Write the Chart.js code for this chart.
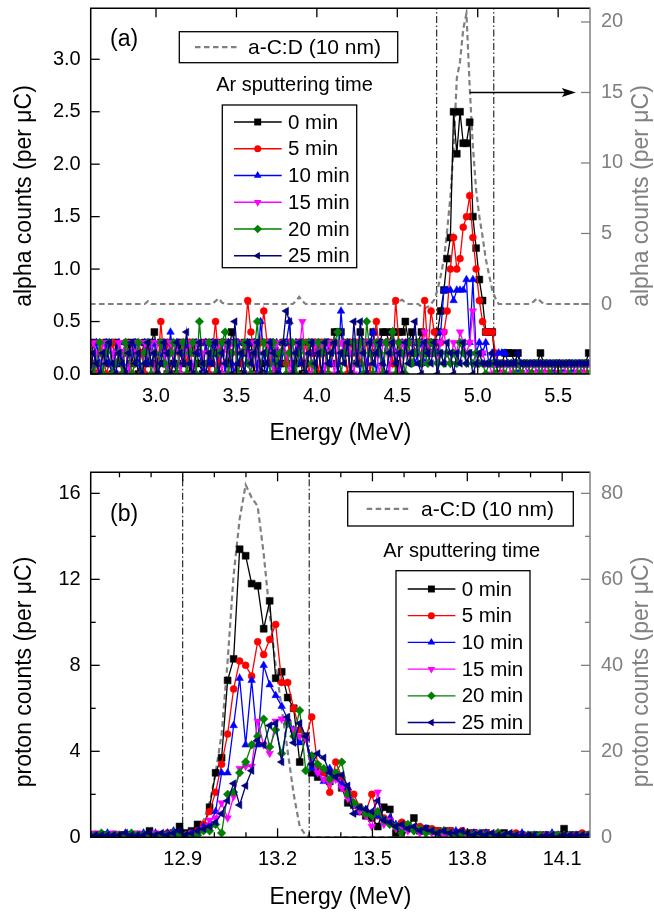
<!DOCTYPE html>
<html>
<head>
<meta charset="utf-8">
<script src="https://cdn.jsdelivr.net/npm/chart.js@4.4.1/dist/chart.umd.min.js"></script>
<style>
  html, body { margin: 0; padding: 0; background: #fff; }
  #wrap { position: relative; width: 654px; height: 914px; }
  .panel { position: absolute; left: 0; width: 654px; height: 457px; }
</style>
</head>
<body>
<div id="wrap">
  <div class="panel" style="top:0"><canvas id="chart-a" width="654" height="457"></canvas></div>
  <div class="panel" style="top:457px"><canvas id="chart-b" width="654" height="457"></canvas></div>
</div>
<script>
// ── Energy channels (MeV) ─────────────────────────────────
const ENERGY_A = [
  2.59,2.61,2.63,2.65,2.67,2.69,2.71,2.73,2.75,2.77,
  2.79,2.81,2.83,2.85,2.87,2.89,2.91,2.93,2.95,2.97,
  2.99,3.01,3.03,3.05,3.07,3.09,3.11,3.13,3.15,3.17,
  3.19,3.21,3.23,3.25,3.27,3.29,3.31,3.33,3.35,3.37,
  3.39,3.41,3.43,3.45,3.47,3.49,3.51,3.53,3.55,3.57,
  3.59,3.61,3.63,3.65,3.67,3.69,3.71,3.73,3.75,3.77,
  3.79,3.81,3.83,3.85,3.87,3.89,3.91,3.93,3.95,3.97,
  3.99,4.01,4.03,4.05,4.07,4.09,4.11,4.13,4.15,4.17,
  4.19,4.21,4.23,4.25,4.27,4.29,4.31,4.33,4.35,4.37,
  4.39,4.41,4.43,4.45,4.47,4.49,4.51,4.53,4.55,4.57,
  4.59,4.61,4.63,4.65,4.67,4.69,4.71,4.73,4.75,4.77,
  4.79,4.81,4.83,4.85,4.87,4.89,4.91,4.93,4.95,4.97,
  4.99,5.01,5.03,5.05,5.07,5.09,5.11,5.13,5.15,5.17,
  5.19,5.21,5.23,5.25,5.27,5.29,5.31,5.33,5.35,5.37,
  5.39,5.41,5.43,5.45,5.47,5.49,5.51,5.53,5.55,5.57,
  5.59,5.61,5.63,5.65,5.67,5.69
];
const ENERGY_B = [
  12.605,12.624,12.643,12.662,12.681,12.700,12.719,12.738,12.757,12.776,
  12.795,12.814,12.833,12.852,12.871,12.890,12.909,12.928,12.947,12.966,
  12.985,13.004,13.023,13.042,13.061,13.080,13.099,13.118,13.137,13.156,
  13.175,13.194,13.213,13.232,13.251,13.270,13.289,13.308,13.327,13.346,
  13.365,13.384,13.403,13.422,13.441,13.460,13.479,13.498,13.517,13.536,
  13.555,13.574,13.593,13.612,13.631,13.650,13.669,13.688,13.707,13.726,
  13.745,13.764,13.783,13.802,13.821,13.840,13.859,13.878,13.897,13.916,
  13.935,13.954,13.973,13.992,14.011,14.030,14.049,14.068,14.087,14.106,
  14.125,14.144,14.163,14.182
];

// ── Panel (a): alpha counts (per µC) ──────────────────────
const ALPHA_0 = [
  .1,.3,.1,0,.2,.3,.1,0,.3,.1,  .2,0,.3,.1,.3,0,.2,.3,.1,.3,
  .4,.1,.3,.2,0,.3,.1,0,.3,.1,  .3,0,.3,.2,.1,0,.3,.1,.3,.2,
  0,.3,.3,.1,.4,.3,0,0,.3,.2,  .3,0,.3,.1,0,.3,.3,0,.2,.1,
  .3,.1,.3,0,.1,.3,0,.1,.3,.3,  .2,.3,0,.3,.3,.1,.4,.4,.4,.2,
  .3,0,.3,.1,.4,.3,0,.3,.4,.2,  .3,.4,.4,.3,.4,.1,.4,.4,.5,.3,
  .4,.2,.3,.4,.2,.3,.2,.3,.4,.6,  .8,1.1,1.3,2.5,2.1,2.5,2.2,2.2,2.4,1.5,
  1.2,.9,.7,.4,.4,.4,.1,0,.1,.2,  .2,.2,.1,.2,0,.1,.1,0,.1,.1,
  .2,.1,.1,0,.1,.1,.1,0,.1,.1,  .1,0,.1,.1,.1,.2
];
const ALPHA_5 = [
  .2,.1,0,.3,.2,0,.1,.3,.1,.2,  0,.3,.2,0,.1,.3,.2,0,.3,.1,
  .2,0,.5,.1,.3,0,.2,.3,0,.3,  .1,.3,0,.2,.3,.1,.3,0,.2,.5,
  .1,.3,0,.3,.2,0,.3,.1,.3,.7,  .4,.2,0,.3,.6,.3,.1,.3,0,.2,
  .3,.1,.3,0,.2,.3,.1,.3,0,.2,  .3,0,.3,.2,0,.3,.3,.1,.2,.3,
  0,.3,.2,.3,.1,.3,.3,0,.3,.5,  .2,0,.3,.3,.1,.7,.3,0,.3,.2,
  .1,.2,.3,.1,.7,.2,.6,.4,.2,.3,  .4,.6,1.0,1.3,1.0,1.1,1.4,1.5,1.7,1.3,
  1.0,.7,.5,.4,.4,.4,.2,.1,0,.1,  .1,0,.1,.1,0,.1,.1,0,.1,0,
  .1,.1,0,.1,.1,0,.1,.1,0,.1,  .1,0,.1,.1,0,.1
];
const ALPHA_10 = [
  .2,0,.3,.1,0,.3,.1,0,.2,.3,  .1,.3,0,.2,.3,.1,0,.3,.1,.2,
  .3,0,.2,.3,0,.4,.1,.3,0,.2,  .3,.1,0,.3,.2,0,.3,.1,.3,0,
  .2,.3,0,.3,.1,0,.3,.2,0,.3,  .1,.3,0,.5,.2,0,.3,.1,.3,0,
  .2,.3,.5,0,.3,.1,.3,0,.2,.3,  0,.3,.2,0,.3,.1,.3,0,.6,.2,
  .3,0,.3,.2,0,.3,.1,.3,.4,0,  .3,.1,.3,0,.4,.2,0,.3,.2,.3,
  .3,.1,.2,.3,.1,.2,.3,.2,.2,.4,  .8,.8,.8,.7,.8,.8,.8,.9,.3,.9,
  .2,.3,.2,.3,.1,.2,.1,.2,.2,.2,  .1,.1,.1,0,.1,.1,0,.1,.1,0,
  .1,0,.1,.1,0,.1,.1,0,.1,.1,  0,.1,.1,0,.1,.1
];
const ALPHA_15 = [
  .2,.3,.2,0,.3,.2,.3,.2,0,.3,  .2,.3,0,.3,.2,.3,0,.3,.2,.3,
  0,.3,.3,.2,0,.3,.2,.3,0,.3,  .2,.3,0,.3,.3,.2,0,.3,.2,0,
  .3,0,.3,.2,.3,.3,0,.2,.3,.2,  0,.3,.2,0,.3,.3,.2,0,.3,.2,
  .3,.2,0,.3,.3,.2,.5,0,.3,0,  .3,.2,.3,0,.3,.2,0,.3,.3,.2,
  .3,.2,0,.3,.2,.3,0,.3,.3,.2,  0,.3,.3,0,.3,.2,0,.3,.2,.3,
  .3,.2,.3,.1,.4,.3,.2,.3,.1,.3,  .4,.2,.1,.3,.2,.4,.3,.2,.3,.6,
  .1,.2,.2,.1,.1,0,.1,.1,0,.1,  .1,0,.1,.1,0,.1,0,.1,.1,0,
  .1,0,.1,0,.1,.1,0,.1,0,.1,  .1,0,.1,0,.1,.1
];
const ALPHA_20 = [
  .2,0,.1,.3,0,.2,.3,0,.1,.2,  0,.3,.2,0,.1,.3,0,.2,.3,0,
  .2,0,.3,.1,0,.2,.3,0,.2,.3,  0,.2,.3,0,.5,.1,0,.3,.2,0,
  .2,.3,.4,0,.2,.3,0,.2,.3,.1,  0,.2,.5,0,.3,.2,0,.3,.1,.2,
  .3,0,.2,.3,0,.2,.3,0,.3,.1,  0,.3,.2,.3,0,.2,.3,.4,0,.2,
  .3,0,.3,.1,.3,0,.5,.2,0,.3,  .2,0,.3,.2,.4,0,.3,.2,0,.3,
  .1,.2,.3,.1,.2,.1,.3,.2,.1,.2,  .1,.2,.1,.2,.1,.3,.2,.1,.2,.1,
  .2,.1,.1,0,.1,.1,0,.1,.1,0,  .1,.1,0,.1,0,.1,.1,0,.1,.1,
  0,.1,.1,0,.1,.1,0,.1,.1,0,  .1,.1,0,.1,.1,0
];
const ALPHA_25 = [
  0,.2,.1,0,.2,.1,.3,.1,0,.2,  .1,0,.2,.3,.1,.2,0,.1,.3,.1,
  .2,0,.1,.3,.2,0,.1,.3,.2,.1,  .4,.1,0,.2,.3,.1,0,.2,.1,.3,
  0,.2,.1,.3,0,.5,.1,.2,0,.3,  .1,.2,.3,0,.2,.1,.3,.2,0,.1,
  .3,.6,.5,0,.2,.3,.1,0,.2,.3,  .1,.2,0,.3,.1,.2,.3,0,.2,.1,
  .3,0,.5,.1,.5,.2,0,.3,.1,.2,  .3,.1,0,.2,.3,.1,.2,0,.3,.1,
  .2,.5,.1,0,.3,.2,.1,.3,0,.2,  .1,.3,.2,0,.2,.1,.3,.1,.2,0,
  .1,.2,.1,.1,.1,.2,.1,.1,.1,.1,  .1,.1,.1,.2,.1,.1,.1,.1,.1,.1,
  .1,.1,.1,.1,.1,.1,.1,.1,.1,.1,  .1,.1,.1,.1,.1,.1
];
// a-C:D (10 nm) reference film, right axis
const ALPHA_FILM = [
  0,0,0,0,0,0,0,0,0,0,  0,0,0,0,0,0,0,0,.2,0,
  0,0,0,0,0,0,0,0,0,0,  0,0,0,0,0,0,0,0,0,.2,
  .4,.1,0,0,0,0,0,0,0,0,  0,0,0,0,0,0,0,0,0,0,
  0,0,0,0,.2,.5,.2,0,0,0,  0,0,0,0,0,0,0,0,0,0,
  0,0,0,0,0,0,0,0,0,0,  0,0,0,0,0,0,.2,.3,.1,0,
  0,0,0,-.2,-.3,-.2,0,.3,1.0,2.0,  3.2,5.2,7.6,11,16,17.2,19.5,20.6,15.4,11.2,
  8.1,6.2,4.8,3.2,2.1,1.0,.4,0,0,0,  0,0,0,0,0,0,0,0,.2,.4,
  .2,0,0,0,0,0,0,0,0,0,  0,0,0,0,0,0
];

// ── Panel (b): proton counts (per µC) ─────────────────────
const PROTON_0 = [
  .1,.1,.1,.1,0,.1,.1,.1,.1,.1,  .3,.1,.1,.1,.2,.5,.2,.3,.6,.5,
  1.4,3.0,3.7,7.3,8.3,13.4,13.1,11.8,11.7,9.7,  11.0,7.4,7.7,6.5,6.0,3.5,4.7,3.0,2.8,3.1,
  2.6,2.9,2.3,1.6,1.5,1.2,1.0,.9,.5,1.4,  1.3,.2,.6,.5,.9,.3,.4,.3,.3,.2,
  .3,.2,.2,.1,.2,.1,.2,.1,.1,.2,  .1,.1,.1,0,.1,.1,.1,0,.1,.4,
  .1,.1,.1,.1
];
const PROTON_5 = [
  .1,.1,0,.1,.1,.1,.1,.1,.1,.1,  .1,.1,.1,.2,.1,.2,.1,.2,.3,.6,
  1.2,2.1,3.4,4.8,6.9,8.2,8.0,7.5,9.1,8.5,  9.2,9.9,7.2,7.2,6.0,5.0,4.6,5.6,3.3,3.0,
  2.1,3.5,2.8,2.2,2.0,1.4,1.2,2.0,1.0,.9,  .8,.5,.7,.5,.4,.5,.3,.4,.3,.2,
  .3,.2,.3,.2,.2,.1,.2,.1,.2,.1,  .1,.2,.1,.1,.1,0,.1,.1,.1,0,
  .1,.1,.2,.1
];
const PROTON_10 = [
  .1,.1,.1,.2,.1,.1,.2,.1,.1,.2,  .1,.2,.1,.2,.3,.2,.1,.2,.3,.5,
  .6,1.2,3.0,3.0,5.2,7.4,4.3,7.3,4.3,8.0,  7.1,6.6,6.1,5.5,5.0,4.4,4.6,3.2,3.0,2.6,
  3.2,2.8,2.5,2.3,1.6,1.2,1.3,1.1,1.0,.7,  .9,.6,.3,.5,.4,.3,.4,.3,.2,.3,
  .2,.3,.2,.1,.2,.1,.2,.1,.2,.1,  .1,.1,.2,.1,.1,0,.1,.2,.1,.1,
  0,.1,.1,.1
];
const PROTON_15 = [
  .1,.2,.1,.1,.2,.1,.1,.1,.2,.1,  .1,.2,.1,.1,.2,.1,.1,.2,.2,.4,
  .8,.9,1.6,.9,1.9,3.2,3.3,3.3,5.4,4.3,  3.9,5.4,5.5,5.3,5.0,4.7,4.6,3.6,3.0,2.7,
  2.5,2.7,2.3,1.8,1.5,1.2,1.0,.5,2.1,.6,  .8,.4,.5,.3,.4,.2,.3,.2,.2,.1,
  .2,.1,.2,0,.1,.2,.1,.1,0,.1,  .1,0,.1,.1,0,.1,.1,0,.1,.1,
  .1,0,.1,.1
];
const PROTON_20 = [
  .1,.1,.2,.1,.1,.1,.1,.2,.1,.1,  .1,.1,.1,.1,.2,.1,.1,.1,.1,.3,
  .3,.6,.2,2.0,2.1,3.0,3.5,4.3,4.7,5.5,  4.2,5.0,3.9,5.3,4.7,5.9,3.1,3.8,3.4,3.2,
  2.7,3.0,3.5,2.0,1.6,1.4,1.1,1.0,1.2,.8,  .6,.5,.2,.6,.3,.4,.2,.3,.2,.3,
  .2,.1,.2,.2,.1,.2,.1,.1,.2,.1,  .1,.1,0,.1,.1,.1,0,.1,.1,.1,
  .1,0,.1,.1
];
const PROTON_25 = [
  .1,.1,.1,.1,.1,.1,.2,.1,.1,.1,  .2,.1,.2,.1,.2,.3,.1,.2,.3,.4,
  .5,.7,1.1,1.7,2.5,1.5,2.4,3.1,4.5,4.3,  5.2,5.3,3.5,5.6,4.4,5.3,4.7,3.4,3.9,3.7,
  3.0,2.8,2.9,2.4,1.1,1.4,1.3,1.2,1.7,.8,  .7,.5,.6,.4,.5,.3,.4,.3,.2,.3,
  .2,.2,.3,.2,.1,.2,.1,.2,.1,.1,  .2,.1,.1,.1,.1,0,.1,.1,0,.1,
  .1,.1,.1,.1
];
const PROTON_FILM = [
  .5,.5,.5,.5,.5,.5,.5,.5,.5,.5,  .5,.5,.5,.5,.5,.5,.5,1,2,4,
  8,15,24,41,61,74,82,79,77,66,  52,40,30,20,10,2.5,.5,0,0,0,
  0,0,0,0,0,0,0,0,0,0,  0,0,0,0,0,0,0,0,0,0,
  0,0,0,0,0,0,0,0,0,0,  0,0,0,0,0,0,0,0,0,0,
  0,0,0,0
];

// ── Labels, ticks, annotations ────────────────────────────
const SERIES_LABELS = ['0 min', '5 min', '10 min', '15 min', '20 min', '25 min'];
const FILM_LABEL    = 'a-C:D (10 nm)';
const LEGEND_TITLE  = 'Ar sputtering time';

const TICKS_A_X  = [3.0, 3.5, 4.0, 4.5, 5.0, 5.5];
const TICKS_A_Y  = [0, 0.5, 1.0, 1.5, 2.0, 2.5, 3.0];
const TICKS_A_Y2 = [0, 5, 10, 15, 20];
const TICKS_B_X  = [12.9, 13.2, 13.5, 13.8, 14.1];
const MINOR_B_X  = [12.7, 12.8, 13.0, 13.1, 13.3, 13.4, 13.6, 13.7, 13.9, 14.0];
const TICKS_B_Y  = [0, 4, 8, 12, 16];
const MINOR_B_Y  = [2, 6, 10, 14];
const TICKS_B_Y2 = [0, 20, 40, 60, 80];
const MINOR_B_Y2 = [10, 30, 50, 70];

const WINDOW_A = [4.745, 5.10];
const WINDOW_B = [12.9, 13.3];
const ARROW_A  = { from: 4.95, to: 5.61, at: 15 };

// ── Styling ───────────────────────────────────────────────
const FONT   = '"Liberation Sans", Arial, Helvetica, sans-serif';
const GREY   = '#808080';
const COLORS = ['#000000', '#ff0000', '#0000ff', '#ff00ff', '#008000', '#000080'];
const STYLES = ['rect', 'circle', 'triangle', 'triangle', 'rectRot', 'triangle'];
const ROTATE = [0, 0, 0, 180, 0, 270];
const RADII  = [4.9, 3.5, 4.4, 4.4, 4.3, 4.4];

// per-canvas decoration layout (pixels inside each 654x457 canvas)
const DECOR = {
  'chart-a': {
    xMajor: TICKS_A_X, xMinor: [], yMajor: TICKS_A_Y, yMinor: [], y2Major: TICKS_A_Y2, y2Minor: [],
    tag: '(a)', tagAt: [110, 40],
    yTitle: 'alpha counts (per μC)', yTitleY: 196, xTitleY: 440,
    film: { box: [179.3, 31.7, 218.4, 31], line: [195, 240], textX: 248 },
    header: [294.5, 85],
    keys: { box: [222.3, 105, 134.4, 162.7], firstY: 122, step: 26.75 },
    arrow: ARROW_A
  },
  'chart-b': {
    xMajor: TICKS_B_X, xMinor: MINOR_B_X, yMajor: TICKS_B_Y, yMinor: MINOR_B_Y, y2Major: TICKS_B_Y2, y2Minor: MINOR_B_Y2,
    tag: '(b)', tagAt: [110, 58],
    yTitle: 'proton counts (per μC)', yTitleY: 215, xTitleY: 447,
    film: { box: [347.7, 34.7, 225.6, 34.3], line: [366.7, 410.7], textX: 421 },
    header: [461.7, 94],
    keys: { box: [396, 113.7, 134, 163.6], firstY: 132, step: 26.7 },
    arrow: null
  }
};

function drawMarker(ctx, k, x, y) {
  const r = RADII[k];
  ctx.save();
  ctx.translate(x, y);
  ctx.rotate(ROTATE[k] * Math.PI / 180);
  ctx.fillStyle = COLORS[k];
  ctx.beginPath();
  if (STYLES[k] === 'rect') {
    const s = r * Math.SQRT1_2;
    ctx.rect(-s, -s, 2 * s, 2 * s);
  } else if (STYLES[k] === 'circle') {
    ctx.arc(0, 0, r, 0, 2 * Math.PI);
  } else if (STYLES[k] === 'rectRot') {
    ctx.moveTo(0, -r); ctx.lineTo(r, 0); ctx.lineTo(0, r); ctx.lineTo(-r, 0);
  } else {
    for (let i = 0; i < 3; i++) {
      const t = i * 2 * Math.PI / 3;
      ctx.lineTo(Math.sin(t) * r, -Math.cos(t) * r);
    }
  }
  ctx.closePath();
  ctx.fill();
  ctx.restore();
}

const decor = {
  id: 'decor',
  afterDraw(chart) {
    const d = DECOR[chart.canvas.id];
    const { ctx, chartArea: a } = chart;
    const { x, y, y2 } = chart.scales;
    ctx.save();

    const seg = (x1, y1, x2, y2_, c, w) => {
      ctx.strokeStyle = c; ctx.lineWidth = w;
      ctx.beginPath(); ctx.moveTo(x1, y1); ctx.lineTo(x2, y2_); ctx.stroke();
    };
    const text = (s, px, py, size, color, align, base, rot) => {
      ctx.save();
      ctx.translate(px, py);
      if (rot) ctx.rotate(rot);
      ctx.font = `${size}px ${FONT}`;
      ctx.fillStyle = color; ctx.textAlign = align; ctx.textBaseline = base;
      ctx.fillText(s, 0, 0);
      ctx.restore();
    };

    // ── inward tick marks ──
    const xt = (vals, len) => vals.forEach(v => {
      const p = x.getPixelForValue(v);
      seg(p, a.bottom, p, a.bottom - len, '#000', 1.3);
      seg(p, a.top, p, a.top + len, '#000', 1.3);
    });
    xt(d.xMajor, 9); xt(d.xMinor, 5);
    d.yMajor.forEach(v => { const p = y.getPixelForValue(v); seg(a.left, p, a.left + 9, p, '#000', 1.3); });
    d.yMinor.forEach(v => { const p = y.getPixelForValue(v); seg(a.left, p, a.left + 5, p, '#000', 1.3); });
    d.y2Major.forEach(v => { const p = y2.getPixelForValue(v); seg(a.right, p, a.right - 9, p, GREY, 1.3); });
    d.y2Minor.forEach(v => { const p = y2.getPixelForValue(v); seg(a.right, p, a.right - 5, p, GREY, 1.3); });

    // ── frame ──
    seg(a.left - 0.7, a.top, a.right, a.top, '#000', 1.5);
    seg(a.left - 0.7, a.bottom, a.right, a.bottom, '#000', 1.5);
    seg(a.left, a.top, a.left, a.bottom, '#000', 1.5);
    seg(a.right, a.top - 0.7, a.right, a.bottom + 0.7, GREY, 1.5);

    // ── arrow pointing to the right-hand axis ──
    if (d.arrow) {
      const py = y2.getPixelForValue(d.arrow.at);
      const x1 = x.getPixelForValue(d.arrow.from), x2 = x.getPixelForValue(d.arrow.to);
      seg(x1, py, x2 - 10, py, '#000', 1.5);
      ctx.fillStyle = '#000';
      ctx.beginPath();
      ctx.moveTo(x2, py); ctx.lineTo(x2 - 14, py - 4.5); ctx.lineTo(x2 - 11, py); ctx.lineTo(x2 - 14, py + 4.5);
      ctx.closePath(); ctx.fill();
    }

    // ── axis titles & panel tag ──
    text(d.tag, d.tagAt[0], d.tagAt[1], 23, '#000', 'left', 'middle');
    text('Energy (MeV)', (a.left + a.right) / 2, d.xTitleY, 23, '#000', 'center', 'alphabetic');
    text(d.yTitle, 25, d.yTitleY, 23, '#000', 'center', 'middle', -Math.PI / 2);
    text(d.yTitle, 642, d.yTitleY, 23, GREY, 'center', 'middle', -Math.PI / 2);

    // ── film legend ──
    const f = d.film;
    ctx.fillStyle = '#fff';
    ctx.fillRect(f.box[0], f.box[1], f.box[2], f.box[3]);
    ctx.strokeStyle = '#000'; ctx.lineWidth = 1.3;
    ctx.strokeRect(f.box[0], f.box[1], f.box[2], f.box[3]);
    const fy = f.box[1] + f.box[3] / 2;
    ctx.setLineDash([5.5, 3.5]);
    seg(f.line[0], fy, f.line[1], fy, GREY, 2.2);
    ctx.setLineDash([]);
    text(FILM_LABEL, f.textX, fy + 1, 21, '#000', 'left', 'middle');

    // ── series legend ──
    text(LEGEND_TITLE, d.header[0], d.header[1], 20, '#000', 'center', 'middle');
    const kb = d.keys.box;
    ctx.fillStyle = '#fff';
    ctx.fillRect(kb[0], kb[1], kb[2], kb[3]);
    ctx.strokeStyle = '#000'; ctx.lineWidth = 1.3;
    ctx.strokeRect(kb[0], kb[1], kb[2], kb[3]);
    SERIES_LABELS.forEach((lab, k) => {
      const ry = d.keys.firstY + k * d.keys.step;
      seg(kb[0] + 11.7, ry, kb[0] + 59.4, ry, COLORS[k], 1.3);
      drawMarker(ctx, k, kb[0] + 35.4, ry);
      text(lab, kb[0] + 65.7, ry + 1, 20.5, '#000', 'left', 'middle');
    });

    ctx.restore();
  }
};

function axis(pos, min, max, ticks, fmt, size, color, pad) {
  const horizontal = pos === 'bottom';
  return {
    type: 'linear', position: pos, min, max,
    grid: { display: false, drawTicks: false },
    border: { display: false },
    afterBuildTicks: s => { s.ticks = ticks.map(v => ({ value: v })); },
    afterFit: s => {
      if (horizontal) s.height = size; else s.width = size;
      s.paddingTop = 0; s.paddingBottom = 0; s.paddingLeft = 0; s.paddingRight = 0;
    },
    ticks: { color, padding: pad, font: { family: FONT, size: 20 }, callback: fmt, autoSkip: false, maxRotation: 0 }
  };
}

function makePanel(id, p) {
  const datasets = [];
  p.windows.forEach(e => datasets.push({
    data: [{ x: e, y: p.yMin }, { x: e, y: p.yMax }],
    yAxisID: 'y', borderColor: '#000', borderWidth: 1, borderDash: [7, 2.5, 1.5, 2.5],
    pointRadius: 0, order: 12
  }));
  datasets.push({
    data: p.energy.map((e, i) => ({ x: e, y: p.film[i] })),
    yAxisID: 'y2', borderColor: GREY, borderWidth: 2.2, borderDash: [5.5, 3.5],
    pointRadius: 0, order: 11
  });
  p.series.forEach((vals, k) => datasets.push({
    data: p.energy.map((e, i) => ({ x: e, y: vals[i] })),
    yAxisID: 'y', borderColor: COLORS[k], backgroundColor: COLORS[k], borderWidth: 1.3,
    pointStyle: STYLES[k], rotation: ROTATE[k], pointRadius: RADII[k], pointBorderWidth: 0.5,
    order: 6 - k
  }));

  return new Chart(document.getElementById(id), {
    type: 'line',
    data: { datasets },
    options: {
      responsive: false, animation: false, events: [],
      layout: { autoPadding: false, padding: { top: p.top, left: 0, right: 0, bottom: 0 } },
      plugins: { legend: { display: false }, tooltip: { enabled: false } },
      scales: {
        x:  axis('bottom', p.xMin, p.xMax, p.xTicks, v => v.toFixed(1), p.xAxisH, '#000', 10),
        y:  axis('left', p.yMin, p.yMax, p.yTicks, p.yFmt, 90.7, '#000', 10),
        y2: axis('right', p.y2Min, p.y2Max, p.y2Ticks, v => String(v), 64, GREY, 11)
      }
    },
    plugins: [decor]
  });
}

makePanel('chart-a', {
  energy: ENERGY_A, film: ALPHA_FILM,
  series: [ALPHA_0, ALPHA_5, ALPHA_10, ALPHA_15, ALPHA_20, ALPHA_25],
  windows: WINDOW_A,
  xMin: 2.594, xMax: 5.698, xTicks: TICKS_A_X,
  yMin: 0, yMax: 3.486, yTicks: TICKS_A_Y, yFmt: v => v.toFixed(1),
  y2Min: -4.965, y2Max: 20.97, y2Ticks: TICKS_A_Y2,
  top: 8.3, xAxisH: 83
});

makePanel('chart-b', {
  energy: ENERGY_B, film: PROTON_FILM,
  series: [PROTON_0, PROTON_5, PROTON_10, PROTON_15, PROTON_20, PROTON_25],
  windows: WINDOW_B,
  xMin: 12.609, xMax: 14.188, xTicks: TICKS_B_X,
  yMin: 0, yMax: 16.98, yTicks: TICKS_B_Y, yFmt: v => String(v),
  y2Min: 0, y2Max: 84.9, y2Ticks: TICKS_B_Y2,
  top: 15.3, xAxisH: 76.7
});
</script>
</body>
</html>
